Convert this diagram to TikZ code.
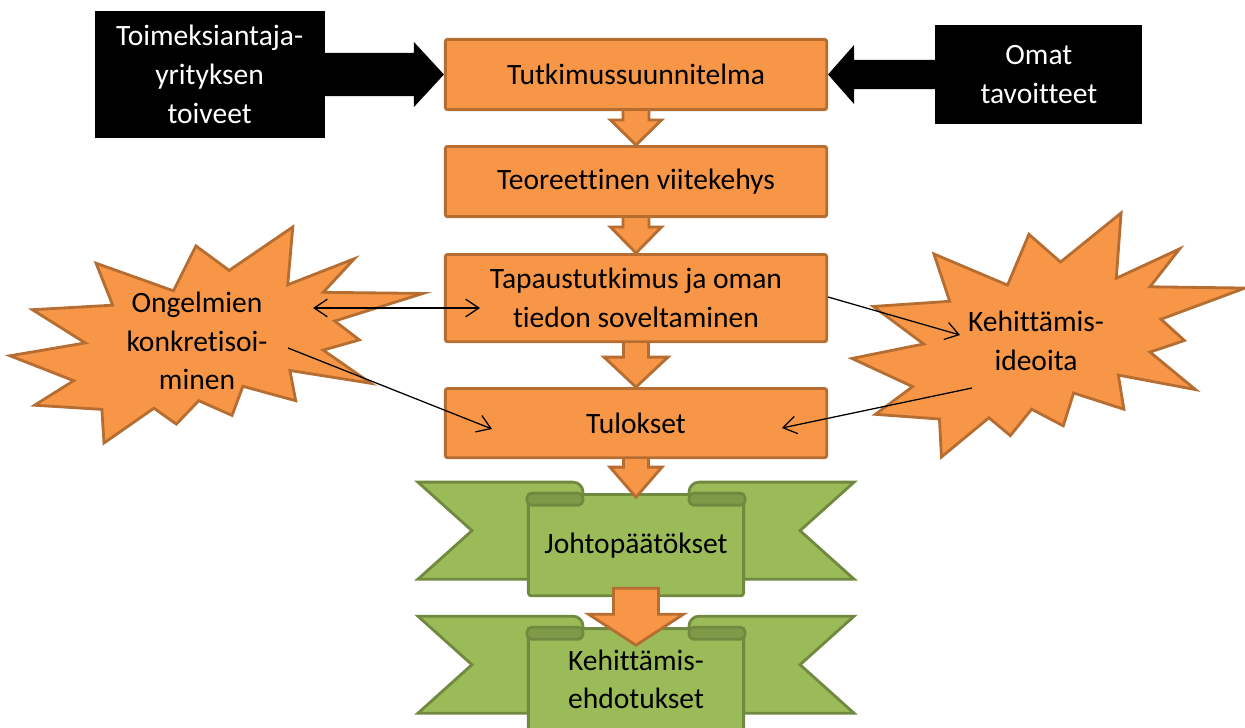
\documentclass[tikz,border=0pt]{standalone}
\usepackage{fontspec}
\setmainfont[Ligatures=NoCommon]{Carlito}
\usepackage{xcolor}
\definecolor{offorange}{HTML}{F79646}
\definecolor{offorangedk}{HTML}{B66D31}
\definecolor{offgreen}{HTML}{9BBB59}
\definecolor{offgreendk}{HTML}{71893F}
\definecolor{offgreenfold}{HTML}{7E9A48}
\usetikzlibrary{arrows.meta,positioning,calc,backgrounds}
\tikzset{
  nb/.style={align=center, font=\fontsize{21}{27.5}\selectfont, inner sep=0pt},
  norange/.style={nb, fill=offorange, draw=offorangedk, line width=2pt,
                  rounded corners=1.5pt, minimum width=9.53cm},
  nblack/.style={nb, fill=black, text=white},
  ngreen/.style={nb, fill=offgreen, draw=offgreendk, line width=2pt,
                 rounded corners=2pt, minimum width=5.38cm, minimum height=2.53cm},
  oblock/.style={fill=offorange, draw=offorangedk, line width=2pt, line join=miter},
  gwing/.style={fill=offgreen, draw=offgreendk, line width=2pt, line join=miter},
  gfold/.style={fill=offgreenfold, draw=offgreendk, line width=2pt, rounded corners=0.12cm},
  burst/.style={fill=offorange, draw=offorangedk, line width=2pt, line join=miter},
  ar/.style={-{Straight Barb[length=3.3mm,width=4.4mm]}, draw=black, line width=0.9pt},
  arr/.style={{Straight Barb[length=3.3mm,width=4.4mm]}-{Straight Barb[length=3.3mm,width=4.4mm]},
              draw=black, line width=0.9pt},
}
% explosion shape: left, top, width, height (px)
\newcommand\sealshape[4]{%
  \filldraw[burst, shift={(#1,#2)}, xscale=#3/100, yscale=#4/100]
    (53.06,20.10) -- (68.47,0) -- (67.25,26.75) -- (83.37,14.69) -- (75.83,30.24)
    -- (100,30.76) -- (78.63,43.53) -- (84.58,52.27) -- (75.83,56.99) -- (87.39,72.37)
    -- (67.78,66.44) -- (69.18,80.42) -- (56.39,73.77) -- (53.76,87.23) -- (45.70,80.42)
    -- (40.28,91.26) -- (34.85,83.91) -- (22.76,100) -- (22.25,84.44) -- (5.95,82.52)
    -- (15.42,71.16) -- (0,59.62) -- (18.22,53.67) -- (5.43,38.29) -- (24.87,36.19)
    -- (20.84,16.78) -- (39.58,29.55) -- (45.01,8.74) -- cycle;}
% down block arrow: [end], from, to, shaft half, head half, head length
\newcommand\downblock[6][]{%
  \filldraw[oblock] let \p1=(#2), \p2=(#3) in
    (\x1-#4,\y1) -- (\x1-#4,\y2+#6) -- (\x1-#5,\y2+#6) -- (\x1,\y2)
    -- (\x1+#5,\y2+#6) -- (\x1+#4,\y2+#6) -- (\x1+#4,\y1) #1;}
% wings and folds round a ribbon panel
\newcommand\ribbonback[1]{%
  \begin{scope}[on background layer]
    \filldraw[gwing] let \p1=(#1.north west) in
      (\x1-2.725cm,\y1+0.275cm) -- (\x1+1.15cm,\y1+0.275cm)
      arc[start angle=90,end angle=0,radius=0.25cm]
      -- (\x1+1.4cm,\y1-2.15cm) -- (\x1-2.725cm,\y1-2.15cm)
      -- (\x1-1.375cm,\y1-0.9375cm) -- cycle;
    \filldraw[gwing] let \p1=(#1.north east) in
      (\x1+2.725cm,\y1+0.275cm) -- (\x1-1.15cm,\y1+0.275cm)
      arc[start angle=90,end angle=180,radius=0.25cm]
      -- (\x1-1.4cm,\y1-2.15cm) -- (\x1+2.725cm,\y1-2.15cm)
      -- (\x1+1.375cm,\y1-0.9375cm) -- cycle;
  \end{scope}
  \filldraw[gfold] let \p1=(#1.north west) in (\x1,\y1) rectangle (\x1+1.4cm,\y1-0.3cm);
  \filldraw[gfold] let \p1=(#1.north east) in (\x1,\y1) rectangle (\x1-1.4cm,\y1-0.3cm);}

\begin{document}
\begin{tikzpicture}[x=0.025cm, y=-0.025cm]
  \useasboundingbox (0,0) rectangle (1245,728);
  \sealshape{10}{227}{413}{216}
  \sealshape{852}{213}{393}{244}

  \node[norange, minimum height=1.755cm] (tut) at (636,74.5) {Tutkimussuunnitelma};
  \node[norange, minimum height=1.755cm, below=0.85cm of tut] (teo) {Teoreettinen viitekehys};
  \node[norange, minimum height=2.18cm, below=0.875cm of teo] (tap) {Tapaustutkimus ja oman\\tiedon soveltaminen};
  \node[norange, minimum height=1.73cm, below=1.1cm of tap] (tul) {Tulokset};
  \node[ngreen, below=0.85cm of tul] (joh) {Johtopäätökset};
  \node[ngreen, below=0.75cm of joh] (keh) {Kehittämis-\\ehdotukset};
  \ribbonback{joh}
  \ribbonback{keh}

  \node[nblack, minimum width=5.75cm, minimum height=3.15cm, left=2.975cm of tut] (cli) {Toimeksiantaja-\\yrityksen\\toiveet};
  \node[nblack, minimum width=5.175cm, minimum height=2.475cm, right=2.675cm of tut] (oma) {Omat\\tavoitteet};
  \node[nb] (ong) at (197,341) {Ongelmien\\konkretisoi-\\minen};
  \node[nb] (kid) at (1036,341) {Kehittämis-\\ideoita};

  % black block arrows
  \fill let \p1=(cli.east), \p2=(tut.west) in
    (\x1,\y2+0.5375cm) -- (\x2-0.75cm,\y2+0.5375cm) -- (\x2-0.75cm,\y2+0.8125cm) -- (\x2,\y2)
    -- (\x2-0.75cm,\y2-0.8125cm) -- (\x2-0.75cm,\y2-0.5375cm) -- (\x1,\y2-0.5375cm) -- cycle;
  \fill let \p1=(oma.west), \p2=(tut.east) in
    (\x1,\y2+0.3625cm) -- (\x2+0.65cm,\y2+0.3625cm) -- (\x2+0.65cm,\y2+0.7375cm) -- (\x2,\y2)
    -- (\x2+0.65cm,\y2-0.7375cm) -- (\x2+0.65cm,\y2-0.3625cm) -- (\x1,\y2-0.3625cm) -- cycle;

  % orange block arrows
  \downblock{tut.south}{teo.north}{0.325cm}{0.6375cm}{0.625cm}
  \downblock{teo.south}{tap.north}{0.325cm}{0.6375cm}{0.65cm}
  \downblock{tap.south}{tul.north}{0.3125cm}{0.8cm}{0.75cm}
  \downblock{tul.south}{$(joh.north)-(0,0.1cm)$}{0.3125cm}{0.65cm}{0.75cm}
  \downblock[-- cycle]{$(joh.south)+(0,0.225cm)$}{$(keh.north)-(0,0.45cm)$}{0.5625cm}{1.1875cm}{0.775cm}

  % thin connectors
  \coordinate (ongA) at (313,308);
  \coordinate (tapA) at (480,308);
  \coordinate (ongB) at (288,348);
  \coordinate (tulA) at (492,429);
  \coordinate (tapB) at (828,297);
  \coordinate (kidA) at (960,335);
  \coordinate (kidB) at (972,388);
  \coordinate (tulB) at (782,428);
  \draw[arr] (ongA) -- (tapA);
  \draw[ar] (ongB) -- (tulA);
  \draw[ar] (tapB) -- (kidA);
  \draw[ar] (kidB) -- (tulB);
\end{tikzpicture}
\end{document}
